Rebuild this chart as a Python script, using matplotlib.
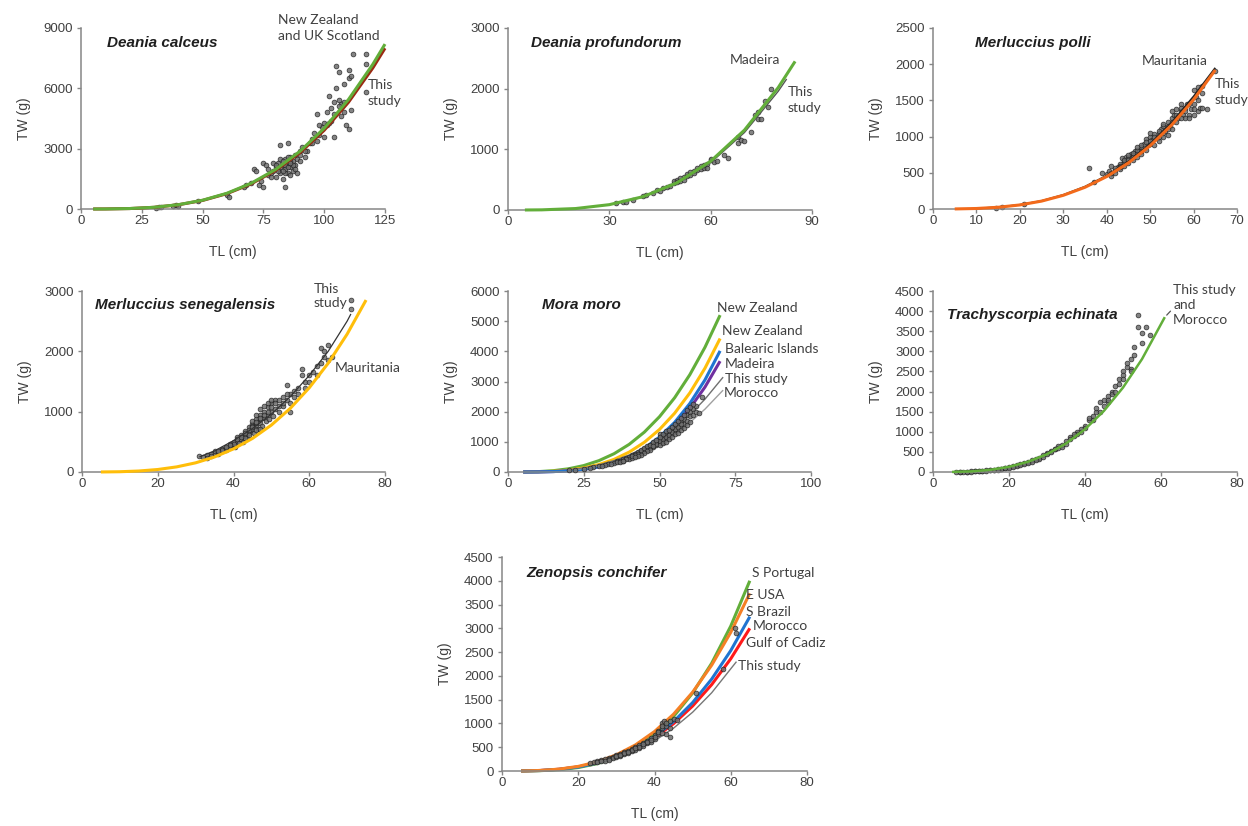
import numpy as np
import matplotlib.pyplot as plt

W_PX, H_PX = 1248, 826

# ---------------- data ----------------
# Deania calceus
calceus_tl = [5, 10, 20, 30, 40, 50, 60, 70, 80, 90, 100, 110, 120, 125]
calceus_nz = [0.3, 2.6, 23, 85, 214, 437, 783, 1283, 1966, 2867, 4016, 5447, 7196, 8200]
calceus_this = [0.3, 2.5, 22, 83, 209, 426, 763, 1251, 1917, 2795, 3916, 5311, 7016, 7995]
calceus_pts = [(31, 60), (32, 90), (33, 100), (38, 150), (39, 200), (40, 170), (48, 400),
               (60, 700), (61, 600), (67, 1100), (68, 1200), (70, 1300), (71, 2000), (72, 1900),
               (73, 1200), (74, 1400), (75, 2300), (76, 2200), (75, 1100), (77, 1700), (78, 1800),
               (79, 1900), (80, 2100), (80, 1600), (81, 2000), (81, 2300), (82, 3200), (82, 1800),
               (83, 2200), (83, 1500), (84, 2500), (84, 1100), (84, 2000), (85, 2300), (85, 1800),
               (85, 3300), (86, 2600), (86, 2100), (87, 2400), (87, 1900), (88, 2700), (88, 2200),
               (89, 2500), (89, 1800), (90, 2900), (90, 2400), (91, 3100), (92, 2600), (93, 2900),
               (94, 3300), (95, 3500), (96, 3800), (97, 3400), (97, 4700), (98, 3700), (99, 4100),
               (100, 4300), (100, 3600), (101, 4200), (101, 4800), (102, 5600), (103, 5000),
               (103, 4400), (104, 5300), (104, 3600), (105, 7100), (105, 6000), (106, 6800),
               (106, 5400), (107, 5200), (107, 4600), (108, 5300), (108, 6200), (109, 4200),
               (110, 6900), (110, 6500), (110, 4000), (111, 6600), (111, 4900), (112, 7700),
               (117, 7700), (117, 7200), (117, 5800), (79, 2300), (82, 2500), (86, 1700), (88, 2000),
               (80, 2200), (81, 1900), (82, 2100), (83, 2400), (84, 2200), (85, 2100), (86, 2400),
               (87, 2200), (84, 1800), (83, 1900), (85, 2600), (86, 2300), (78, 1600), (77, 2000),
               (90, 2700), (92, 2900), (95, 3300), (98, 4200), (102, 4300), (104, 4700),
               (106, 5100), (108, 4800)]

# Deania profundorum
profund_tl = [5, 10, 20, 30, 40, 50, 60, 70, 80, 85]
profund_madeira = [0.3, 2.6, 24, 88, 220, 448, 804, 1317, 2018, 2450]
profund_this_tl = [32, 40, 50, 60, 70, 80, 82.5]
profund_this = [104, 213, 435, 780, 1277, 1957, 2160]
profund_pts = [(32, 110), (34, 130), (35, 140), (37, 170), (40, 230), (41, 250), (43, 280),
               (44, 330), (45, 320), (46, 370), (47, 380), (48, 400), (49, 440), (49, 480),
               (50, 500), (50, 460), (51, 520), (51, 480), (52, 540), (52, 500), (53, 560),
               (53, 600), (54, 620), (54, 580), (55, 650), (55, 610), (56, 660), (56, 690),
               (57, 680), (57, 720), (58, 700), (58, 740), (59, 760), (59, 690), (60, 820),
               (60, 840), (61, 790), (62, 800), (64, 900), (65, 860), (68, 1100), (68, 1200),
               (69, 1150), (70, 1130), (72, 1290), (73, 1570), (74, 1610), (74, 1500), (75, 1500),
               (76, 1800), (77, 1700), (78, 2000)]

# Merluccius polli
polli_tl = [5, 10, 15, 20, 25, 30, 35, 40, 45, 50, 55, 60, 65]
polli_maur = [0.9, 7, 24, 56, 109, 189, 300, 448, 637, 874, 1163, 1510, 1920]
polli_this_tl = [10, 15, 20, 25, 30, 35, 40, 45, 50, 55, 60, 65]
polli_this = [7, 25, 58, 112, 195, 309, 461, 656, 900, 1198, 1555, 1950]
polli_pts = [(14.5, 20), (16, 30), (21, 75), (36, 560), (37, 370), (39, 500), (40, 480),
             (40.5, 520), (41, 460), (41, 600), (42, 540), (42, 500), (42.5, 580), (43, 620),
             (43, 550), (43.5, 700), (44, 600), (44, 660), (44.5, 720), (45, 640), (45, 700),
             (45.5, 760), (46, 680), (46, 740), (46.5, 800), (47, 720), (47, 780), (47.5, 820),
             (48, 760), (48, 850), (48.5, 900), (49, 820), (49, 960), (49.5, 880), (50, 900),
             (50, 1000), (50.5, 950), (51, 880), (51, 1040), (51.5, 980), (52, 1050), (52, 940),
             (52.5, 1100), (53, 1000), (53, 1150), (53.5, 1080), (54, 1200), (54, 1020),
             (54.5, 1150), (55, 1250), (55, 1100), (55.5, 1300), (56, 1200), (56, 1380),
             (56.5, 1260), (57, 1350), (57, 1450), (57.5, 1300), (58, 1400), (58, 1250),
             (58.5, 1450), (59, 1300), (59.5, 1380), (60, 1650), (60, 1450), (60.5, 1550),
             (61, 1680), (61, 1350), (61.5, 1400), (62, 1700), (62, 1600), (63, 1380), (65, 1900),
             (44, 640), (46, 720), (48, 800), (50, 940), (52, 1000), (54, 1100),
             (41, 500), (42, 560), (43, 600), (44, 680), (45, 740), (46, 780), (47, 820),
             (48, 880), (49, 920), (50, 1050), (51, 1000), (52, 1080), (53, 1050), (54, 1150),
             (55, 1200), (56, 1300), (57, 1250), (58, 1350), (59, 1450), (60, 1380), (61, 1500),
             (62, 1400), (60, 1300), (59, 1250), (47, 860), (45, 680), (43, 580), (53, 1180),
             (55, 1350), (57, 1400)]

# Merluccius senegalensis
seneg_tl = [5, 10, 15, 20, 25, 30, 35, 40, 45, 50, 55, 60, 65, 70, 75]
seneg_maur = [0.5, 4.5, 16.5, 41.5, 85, 152, 249, 383, 556, 778, 1056, 1396, 1803, 2285, 2850]
seneg_this_tl = [31, 35, 40, 45, 50, 55, 60, 65, 70, 71]
seneg_this = [250, 350, 520, 720, 960, 1250, 1600, 2000, 2500, 2620]
seneg_pts = [(31, 260), (32, 250), (33, 280), (33, 230), (34, 300), (34, 260), (35, 320),
             (35, 350), (36, 330), (36, 300), (37, 380), (37, 340), (38, 400), (38, 360),
             (39, 420), (39, 460), (40, 450), (40, 500), (40.5, 420), (41, 520), (41, 580),
             (41.5, 480), (42, 550), (42, 620), (42.5, 500), (43, 600), (43, 680), (43.5, 560),
             (44, 650), (44, 750), (44.5, 700), (45, 720), (45, 800), (45.5, 650), (46, 780),
             (46, 880), (46.5, 720), (47, 820), (47, 950), (47.5, 760), (48, 900), (48, 1000),
             (48.5, 850), (49, 950), (49, 1080), (49.5, 880), (50, 1000), (50, 1150), (50.5, 920),
             (51, 1050), (51, 1200), (52, 1100), (52, 1000), (53, 1250), (53, 1100), (54, 1450),
             (54, 1200), (55, 1000), (55, 1300), (56, 1250), (57, 1400), (58, 1700), (58, 1600),
             (59, 1500), (60, 1500), (61, 1650), (62, 1600), (63, 1800), (63, 2050), (64, 2000),
             (65, 2100), (65, 1850), (66, 1900), (71, 2850), (71, 2700),
             (44, 700), (45, 760), (46, 820), (47, 880), (48, 940), (46, 700), (47, 720),
             (43, 640), (45, 850), (46, 950), (47, 1050), (48, 1100), (49, 1150), (50, 1200),
             (51, 1150), (49, 1000), (50, 1080), (47, 900), (46, 830), (45, 740), (44, 620),
             (43, 560), (42, 580), (41, 540), (40, 470), (39, 440), (38, 420), (37, 360),
             (36, 350), (52, 1200), (53, 1150), (54, 1300), (56, 1350), (55, 1150), (57, 1300),
             (59, 1400), (60, 1600), (62, 1750), (64, 1900)]

# Mora moro
moro_tl = [5, 10, 15, 20, 25, 30, 35, 40, 45, 50, 55, 60, 65, 70]
moro_nz1 = [1.5, 12.5, 44, 107, 213, 376, 606, 917, 1322, 1833, 2462, 3224, 4133, 5200]
moro_nz2 = [0.6, 5.9, 23.5, 62.5, 134, 248, 419, 660, 985, 1410, 1949, 2620, 3440, 4425]
moro_bal = [0.2, 3, 13.4, 39, 89, 175, 309, 506, 783, 1156, 1645, 2269, 3052, 4015]
moro_mad = [0.3, 3.3, 14.4, 40.4, 90, 174, 303, 490, 749, 1094, 1542, 2109, 2814, 3674]
moro_gray_tl = [20, 25, 30, 35, 40, 45, 50, 55, 60, 65, 71]
moro_this = [70, 137, 237, 377, 562, 801, 1098, 1462, 1898, 2413, 3145]
moro_mor = [60, 118, 205, 325, 485, 691, 948, 1262, 1638, 2083, 2714]
moro_pts = [(20, 60), (25, 100), (30, 200), (33, 250), (35, 300), (36, 350), (37, 380),
            (38, 420), (39, 450), (40, 500), (40, 430), (41, 560), (41, 480), (42, 600),
            (42, 520), (43, 650), (43, 560), (44, 700), (44, 620), (45, 760), (45, 680),
            (46, 800), (46, 720), (47, 880), (47, 780), (48, 950), (48, 820), (49, 1000),
            (49, 880), (50, 1100), (50, 950), (50, 1250), (51, 1150), (51, 1000), (52, 1250),
            (52, 1080), (53, 1300), (53, 1150), (54, 1400), (54, 1250), (55, 1500), (55, 1350),
            (56, 1600), (56, 1400), (57, 1700), (57, 1500), (58, 1750), (58, 1600), (59, 1900),
            (59, 1700), (60, 2000), (60, 1850), (61, 2100), (61, 1900), (62, 2200), (62, 2000),
            (63, 1950), (64, 2500), (44, 660), (45, 720), (46, 760), (47, 830), (48, 890),
            (49, 940), (50, 1020), (51, 1080), (52, 1160), (53, 1220), (54, 1320), (55, 1420),
            (56, 1500), (57, 1600), (43, 610), (42, 560), (41, 520), (39, 420), (38, 380),
            (44, 740), (45, 800), (46, 850), (47, 900), (48, 1000), (49, 1050), (50, 1150),
            (51, 1250), (52, 1350), (53, 1400), (54, 1500), (55, 1600), (56, 1700), (57, 1800),
            (58, 1900), (59, 2050), (60, 2150), (61, 2250), (50, 880), (51, 950), (52, 1000),
            (53, 1080), (54, 1150), (55, 1250), (56, 1300), (57, 1400), (58, 1450), (59, 1550),
            (60, 1650), (48, 870), (47, 740), (46, 680), (45, 640), (44, 580), (43, 530),
            (42, 490), (36, 320), (37, 330), (38, 360), (34, 280), (32, 230), (31, 210),
            (28, 150), (27, 140), (22, 80)]

# Trachyscorpia echinata
trachy_tl = [5, 10, 15, 20, 25, 30, 35, 40, 45, 50, 55, 61]
trachy_curve = [1.9, 15.5, 53, 128, 254, 442, 708, 1063, 1522, 2099, 2807, 3850]
trachy_pts = [(6, 5), (7, 8), (8, 10), (9, 12), (10, 15), (11, 20), (12, 25), (13, 30),
              (14, 40), (15, 50), (16, 55), (17, 70), (18, 85), (19, 100), (20, 120), (21, 140),
              (22, 170), (23, 190), (24, 220), (25, 260), (26, 290), (27, 330), (28, 360),
              (29, 420), (30, 480), (31, 520), (32, 580), (33, 640), (34, 660), (35, 760),
              (36, 860), (37, 900), (38, 1000), (39, 1080), (40, 1150), (41, 1300), (42, 1400),
              (43, 1500), (44, 1750), (45, 1800), (46, 1900), (47, 2000), (48, 2150), (49, 2300),
              (50, 2500), (51, 2600), (52, 2800), (53, 3100), (54, 3600), (54, 3900), (55, 3450),
              (56, 3600), (57, 3400), (7, 3), (9, 8), (12, 20), (14, 35), (16, 60), (18, 75),
              (22, 150), (24, 200), (26, 260), (28, 330), (30, 450), (32, 560), (34, 620),
              (36, 820), (38, 950), (41, 1350), (43, 1600), (45, 1650), (46, 1750), (47, 1950),
              (49, 2200), (50, 2400), (51, 2700), (52, 2550), (53, 2900), (55, 3200),
              (10, 10), (11, 15), (13, 25), (15, 40), (17, 60), (19, 90), (20, 100), (21, 130),
              (23, 170), (25, 230), (27, 300), (29, 380), (31, 500), (33, 600), (35, 700),
              (37, 950), (39, 1000), (40, 1100), (42, 1300), (44, 1500), (46, 1800), (48, 2000),
              (50, 2300), (52, 2500)]

# Zenopsis conchifer
zeno_tl = [5, 10, 15, 20, 25, 30, 35, 40, 45, 50, 55, 60, 65]
zeno_port = [0.7, 6.9, 27, 73, 155, 289, 488, 768, 1146, 1639, 2266, 3047, 4000]
zeno_usa = [1.3, 11.3, 40, 97, 193, 340, 549, 830, 1195, 1657, 2226, 2916, 3737]
zeno_braz = [1.1, 9.8, 35, 84, 168, 295, 477, 721, 1038, 1439, 1933, 2532, 3245]
zeno_mor = [1.4, 10.9, 37, 87, 171, 295, 468, 699, 995, 1366, 1817, 2360, 3000]
zeno_this_tl = [23, 25, 30, 35, 40, 45, 50, 55, 61.5]
zeno_this = [120, 155, 267, 424, 633, 901, 1236, 1645, 2300]
zeno_pts = [(23, 170), (24, 190), (25, 210), (25, 180), (26, 230), (27, 250), (27, 220),
            (28, 280), (28, 260), (29, 300), (29, 270), (30, 330), (30, 300), (31, 360),
            (31, 320), (32, 400), (32, 350), (33, 430), (33, 380), (34, 470), (34, 420),
            (35, 500), (35, 450), (36, 540), (36, 480), (37, 580), (37, 530), (38, 640),
            (38, 580), (39, 700), (39, 620), (40, 760), (40, 680), (41, 850), (41, 780),
            (42, 1000), (42, 900), (42.5, 1050), (43, 950), (43, 780), (44, 1050), (44, 720),
            (45, 1100), (46, 1080), (51, 1650), (58, 2150), (61, 3000), (61.5, 2900),
            (26, 210), (28, 240), (30, 310), (32, 370), (34, 440), (36, 500), (38, 600),
            (40, 720), (41, 820), (42, 950), (43, 1000), (42, 800), (44, 900), (39, 650),
            (37, 560), (35, 480), (33, 400), (31, 340)]

GREEN = "#62AE3A"
TXT = "#404040"
AXC = "#868686"


def make_ax(fig, left, top, right, bottom):
    return fig.add_axes([left / W_PX, 1 - bottom / H_PX, (right - left) / W_PX, (bottom - top) / H_PX])


def style(ax, xmax, ymax, xstep, ystep):
    ax.set_xlim(0, xmax)
    ax.set_ylim(0, ymax)
    ax.set_xticks(np.arange(0, xmax + 0.1, xstep))
    ax.set_yticks(np.arange(0, ymax + 0.1, ystep))
    for s in ["top", "right"]:
        ax.spines[s].set_visible(False)
    for s in ["left", "bottom"]:
        ax.spines[s].set_color(AXC)
        ax.spines[s].set_linewidth(1.1)
    ax.tick_params(axis="both", direction="out", length=3, width=1, color=AXC,
                   labelsize=9.5, labelcolor=TXT)
    ax.tick_params(axis="x", pad=1.5)
    ax.tick_params(axis="y", pad=3)
    ax.set_xlabel("TL (cm)", fontsize=10, color=TXT, labelpad=13)
    ax.set_ylabel("TW (g)", fontsize=10, color=TXT, labelpad=9)
    ax.patch.set_alpha(0)


def pts(ax, data, z=3):
    a = np.array(data).T
    ax.scatter(a[0], a[1], s=12, facecolor="#6f6f6f", edgecolor="#1a1a1a",
               linewidth=0.5, alpha=0.85, zorder=z, clip_on=False)


def curve(ax, x, y, color, lw=2.2, z=2):
    ax.plot(x, y, color=color, lw=lw, zorder=z, solid_capstyle="butt", clip_on=False)


def title(ax, x, y, s):
    ax.text(x, y, s, fontsize=11, fontweight="bold", fontstyle="italic", color="#1f1f1f",
            va="center", ha="left", family="Liberation Sans", clip_on=False)


def note(ax, x, y, s, ls=1.4):
    ax.text(x, y, s, fontsize=10, color=TXT, va="center", ha="left", family="Lato",
            linespacing=ls, clip_on=False, zorder=6)


plt.rcParams["font.family"] = ["Liberation Sans", "DejaVu Sans"]
fig = plt.figure(figsize=(W_PX / 100, H_PX / 100), dpi=100)

# Deania calceus
ax = make_ax(fig, 81, 28, 385, 209)
style(ax, 125, 9000, 25, 3000)
pts(ax, calceus_pts, z=2)
curve(ax, calceus_tl, calceus_this, "#9A2A12", z=3)
curve(ax, calceus_tl, calceus_nz, GREEN, z=4)
title(ax, 10.7, 8254, "Deania calceus")
note(ax, 81, 9000, "New Zealand\nand UK Scotland")
note(ax, 118, 5770, "This\nstudy")

# Deania profundorum
ax = make_ax(fig, 508, 28, 812, 210)
style(ax, 90, 3000, 30, 1000)
pts(ax, profund_pts, z=2)
curve(ax, profund_this_tl, profund_this, "#555555", lw=1.0, z=3)
curve(ax, profund_tl, profund_madeira, GREEN, z=4)
title(ax, 6.8, 2753, "Deania profundorum")
note(ax, 65.7, 2473, "Madeira")
note(ax, 82.8, 1813, "This\nstudy")

# Merluccius polli
ax = make_ax(fig, 933, 28, 1237, 209)
style(ax, 70, 2500, 10, 500)
pts(ax, polli_pts, z=2)
curve(ax, polli_this_tl, polli_this, "#222222", lw=1.3, z=3)
curve(ax, polli_tl, polli_maur, "#F26A1B", z=4)
title(ax, 9.7, 2293, "Merluccius polli")
note(ax, 48.0, 2044, "Mauritania")
note(ax, 64.9, 1616, "This\nstudy")

# Merluccius senegalensis
ax = make_ax(fig, 82, 291, 385, 472)
style(ax, 80, 3000, 20, 1000)
pts(ax, seneg_pts, z=2)
curve(ax, seneg_tl, seneg_maur, "#FFBE0A", z=3)
curve(ax, seneg_this_tl, seneg_this, "#333333", lw=0.9, z=4)
title(ax, 3.4, 2768, "Merluccius senegalensis")
note(ax, 61.1, 2915, "This\nstudy", ls=1.25)
note(ax, 66.8, 1719, "Mauritania")

# Mora moro
ax = make_ax(fig, 508, 291, 811, 472)
style(ax, 100, 6000, 25, 1000)
curve(ax, moro_tl, moro_nz1, GREEN)
curve(ax, moro_tl, moro_nz2, "#FFBE0A")
curve(ax, moro_tl, moro_mad, "#7030A0")
curve(ax, moro_tl, moro_bal, "#1F74D0")
curve(ax, moro_gray_tl, moro_mor, "#A0A0A0", lw=1.0)
curve(ax, moro_gray_tl, moro_this, "#707070", lw=1.0)
pts(ax, moro_pts, z=3)
title(ax, 11.1, 5536, "Mora moro")
note(ax, 68.9, 5425, "New Zealand")
note(ax, 70.5, 4674, "New Zealand")
note(ax, 71.6, 4077, "Balearic Islands")
note(ax, 71.6, 3570, "Madeira")
note(ax, 71.6, 3083, "This study")
note(ax, 71.3, 2619, "Morocco")

# Trachyscorpia echinata
ax = make_ax(fig, 933, 291, 1237, 472)
style(ax, 80, 4500, 20, 500)
pts(ax, trachy_pts, z=2)
curve(ax, trachy_tl, trachy_curve, GREEN, lw=1.8, z=3)
title(ax, 3.8, 3903, "Trachyscorpia echinata")
note(ax, 63.2, 4152, "This study\nand\nMorocco", ls=1.32)
ax.annotate("", xy=(trachy_tl[-1], trachy_curve[-1]), xytext=(63.0, 4050),
            arrowprops=dict(arrowstyle="-", color="#555555", lw=0.9))

# Zenopsis conchifer
ax = make_ax(fig, 502, 557, 807, 771)
style(ax, 80, 4500, 20, 500)
curve(ax, zeno_tl, zeno_mor, "#FF1A1A")
curve(ax, zeno_tl, zeno_port, GREEN)
curve(ax, zeno_tl, zeno_braz, "#1F74D0")
curve(ax, zeno_tl, zeno_usa, "#F58025")
curve(ax, zeno_this_tl, zeno_this, "#777777", lw=1.0)
pts(ax, zeno_pts, z=3)
title(ax, 6.3, 4157, "Zenopsis conchifer")
note(ax, 65.5, 4157, "S Portugal")
note(ax, 64.0, 3701, "E USA")
note(ax, 64.0, 3350, "S Brazil")
note(ax, 65.9, 3049, "Morocco")
note(ax, 64.0, 2698, "Gulf of Cadiz")
note(ax, 62.0, 2208, "This study")

fig.savefig("out.png", dpi=100)
